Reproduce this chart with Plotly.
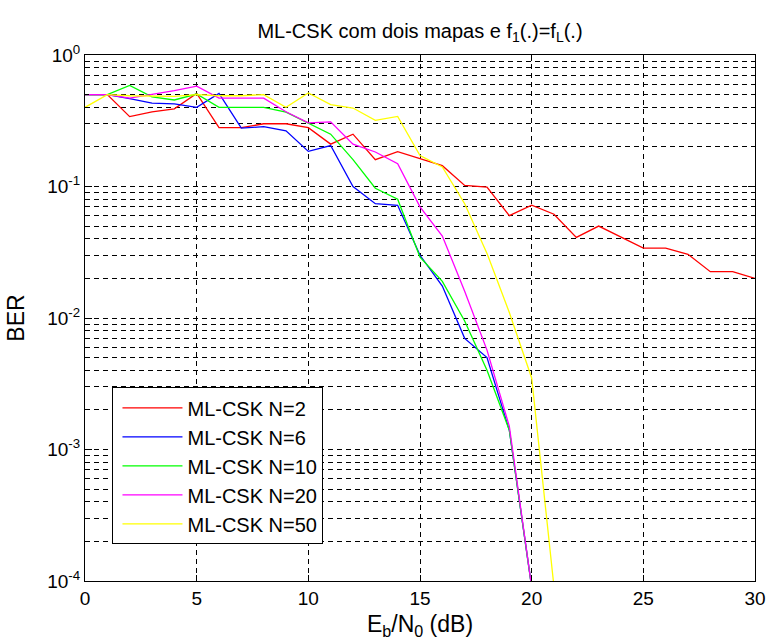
import plotly.graph_objects as go

# ---------------- data ----------------
x_red = list(range(0, 31))
ber_n2 = [0.5, 0.5, 0.34, 0.37, 0.39, 0.51, 0.28, 0.28, 0.30, 0.30, 0.28, 0.21, 0.25, 0.16,
          0.184, 0.163, 0.144, 0.102, 0.099, 0.060, 0.072, 0.0615, 0.041, 0.050, 0.041,
          0.034, 0.034, 0.0305, 0.0225, 0.0225, 0.020]

x_20 = list(range(0, 21))
ber_n6 = [0.5, 0.5, 0.465, 0.43, 0.425, 0.40, 0.51, 0.278, 0.285, 0.265, 0.185, 0.205,
          0.10, 0.074, 0.072, 0.030, 0.0175, 0.0070, 0.0050, 0.0014, 9e-5]
ber_n10 = [0.5, 0.5, 0.586, 0.48, 0.455, 0.505, 0.40, 0.40, 0.40, 0.368, 0.305, 0.25,
           0.16, 0.097, 0.08, 0.029, 0.019, 0.0095, 0.004, 0.0014, 9e-5]
ber_n20 = [0.5, 0.5, 0.47, 0.50, 0.535, 0.58, 0.47, 0.47, 0.47, 0.37, 0.305, 0.31,
           0.21, 0.183, 0.149, 0.07, 0.042, 0.016, 0.0057, 0.0015, 9e-5]

x_21 = list(range(0, 22))
ber_n50 = [0.40, 0.5, 0.49, 0.49, 0.485, 0.50, 0.49, 0.49, 0.50, 0.40, 0.515, 0.42,
           0.395, 0.318, 0.341, 0.172, 0.141, 0.074, 0.031, 0.011, 0.0035, 9e-5]

series_names = ["ML-CSK N=2", "ML-CSK N=6", "ML-CSK N=10", "ML-CSK N=20", "ML-CSK N=50"]
series_colors = ["#FF0000", "#0000FF", "#00FF00", "#FF00FF", "#FFFF00"]

x_ticks = [0, 5, 10, 15, 20, 25, 30]
y_ticks = [1e-4, 1e-3, 1e-2, 1e-1, 1]
y_ticktext = ["10<sup>-4</sup>", "10<sup>-3</sup>", "10<sup>-2</sup>", "10<sup>-1</sup>", "10<sup>0</sup>"]
y_minor = [m * 10.0 ** e for e in range(-4, 0) for m in range(2, 10)]

title_text = "ML-CSK com dois mapas e f<sub>1</sub>(.)=f<sub>L</sub>(.)"
x_title = "E<sub>b</sub>/N<sub>0</sub> (dB)"
y_title = "BER"

# ---------------- figure ----------------
FONT = "Liberation Sans, Arial, sans-serif"
fig = go.Figure()
xs = [x_red, x_20, x_20, x_20, x_21]
ys = [ber_n2, ber_n6, ber_n10, ber_n20, ber_n50]
for i, (xv, yv) in enumerate(zip(xs, ys)):
    fig.add_trace(go.Scatter(
        x=xv, y=yv, mode="lines", name=series_names[i],
        line=dict(color=series_colors[i], width=1.3),
        legendgroup=f"g{i}",
    ))

grid_dash = "5px,4px"
fig.update_layout(
    width=769, height=642,
    margin=dict(l=85, r=14, t=55, b=61, autoexpand=False),
    paper_bgcolor="white", plot_bgcolor="white",
    font=dict(family=FONT, size=19, color="black"),
    title=dict(text=title_text, x=0.5, xref="paper", xanchor="center",
               y=1 - 31 / 642, yref="container", yanchor="middle",
               font=dict(family=FONT, size=20, color="black")),
    showlegend=True,
    legend=dict(x=0.041, y=0.368, xanchor="left", yanchor="top",
                bgcolor="white", bordercolor="black", borderwidth=1,
                font=dict(family=FONT, size=20, color="black"),
                itemwidth=60, tracegroupgap=0, indentation=4),
)
fig.update_xaxes(
    range=[0, 30], tickvals=x_ticks, ticks="inside", ticklen=6, tickcolor="black",
    showline=True, linecolor="black", linewidth=1, mirror="ticks",
    showgrid=True, gridcolor="black", gridwidth=1, griddash=grid_dash,
    zeroline=False, automargin=False, title=dict(text=x_title, standoff=8),
    tickfont=dict(size=19),
)
fig.update_yaxes(
    type="log", range=[-4, 0], tickvals=y_ticks, ticktext=y_ticktext,
    ticks="inside", ticklen=7, tickcolor="black",
    showline=True, linecolor="black", linewidth=1, mirror="ticks",
    showgrid=True, gridcolor="black", gridwidth=1, griddash=grid_dash,
    minor=dict(tickvals=y_minor, ticks="inside", ticklen=4, tickcolor="black",
               showgrid=True, gridcolor="black", gridwidth=1, griddash=grid_dash),
    zeroline=False, automargin=False, title=dict(text=y_title, standoff=16),
    tickfont=dict(size=19),
)
fig.write_html("out.html")
